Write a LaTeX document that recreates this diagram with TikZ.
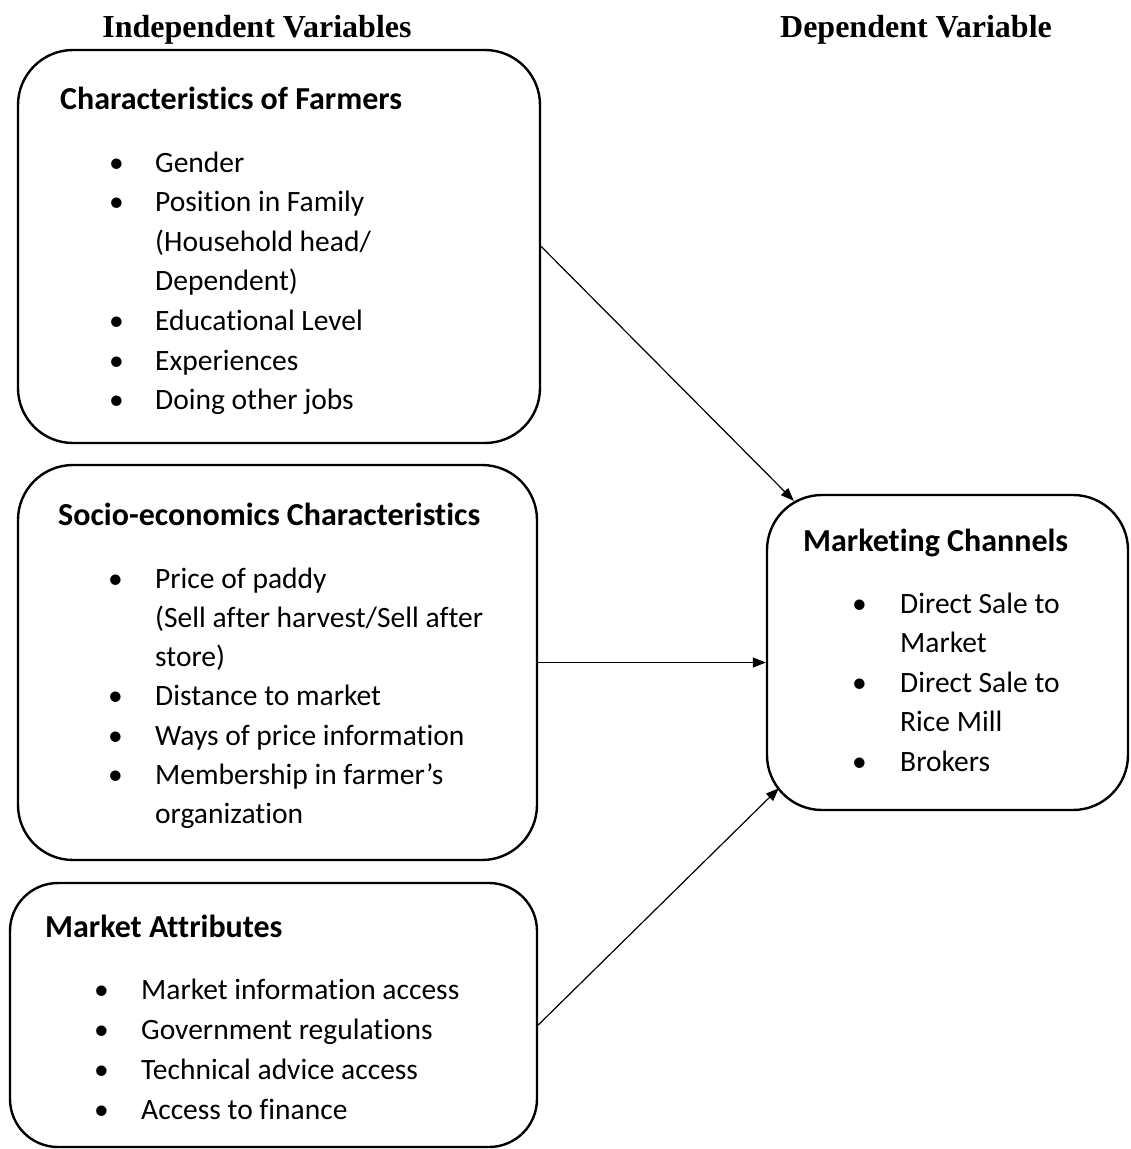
\documentclass[tikz,border=0pt]{standalone}
\usepackage{fontspec}
\setmainfont{Carlito}[Ligatures=CommonOff]
\newfontfamily\hdfont{Liberation Serif}
\usetikzlibrary{positioning, arrows.meta}

\begin{document}
\begin{tikzpicture}[
      x=1pt, y=-1pt,
      box/.style={draw, line width=2.4pt, rounded corners=55pt, inner sep=0pt},
      ttl/.style={font=\fontsize{32}{38}\selectfont\bfseries, anchor=base west, inner sep=0pt},
      items/.style={font=\fontsize{29.5}{39.6}\selectfont, anchor=base west, inner sep=0pt},
      hdr/.style={font=\hdfont\fontsize{32}{38}\selectfont\bfseries, anchor=base, inner sep=0pt},
      flow/.style={-{Triangle[length=13pt, width=10pt]}, line width=1.2pt}
    ]
    \useasboundingbox (0,0) rectangle (1131,1149);

    % Spaltenköpfe
    \node[hdr] (indep) at (257,37) {Independent Variables};
    \node[hdr] (dep) at (916,37) {Dependent Variable};

    % Kästen
    \node[box, minimum width=522pt, minimum height=393pt] (farm) at (279,246.5) {};
    \node[box, minimum width=519pt, minimum height=395pt] (socio) at (277.5,662.5) {};
    \node[box, minimum width=527pt, minimum height=264pt, rounded corners=48pt] (mkt) at (273.5,1015) {};
    \node[box, minimum width=361pt, minimum height=315pt] (chan) at (947.5,652.5) {};

    % Farmers
    \node[ttl] (farmT) at (60,109) {Characteristics of Farmers};
    \node[items] (farmL) at (109,172) {\begin{tabular}[t]{@{}p{46pt}@{}l@{}}
      • & Gender\\
      • & Position in Family\\
        & (Household head/\\
        & Dependent)\\
      • & Educational Level\\
      • & Experiences\\
      • & Doing other jobs
    \end{tabular}};

    % Socio-economics
    \node[ttl] (socioT) at (58,525) {Socio-economics Characteristics};
    \node[items, font=\fontsize{29.5}{39.3}\selectfont] (socioL) at (108,588) {\begin{tabular}[t]{@{}p{47pt}@{}l@{}}
      • & Price of paddy\\
        & (Sell after harvest/Sell after\\
        & store)\\
      • & Distance to market\\
      • & Ways of price information\\
      • & Membership in farmer’s\\
        & organization
    \end{tabular}};

    % Market
    \node[ttl] (mktT) at (45,937) {Market Attributes};
    \node[items, font=\fontsize{29.5}{40.3}\selectfont] (mktL) at (94,999) {\begin{tabular}[t]{@{}p{47pt}@{}l@{}}
      • & Market information access\\
      • & Government regulations\\
      • & Technical advice access\\
      • & Access to finance
    \end{tabular}};

    % Channels
    \node[ttl] (chanT) at (803,551) {Marketing Channels};
    \node[items, font=\fontsize{29.5}{39.5}\selectfont] (chanL) at (852,613) {\begin{tabular}[t]{@{}p{48pt}@{}l@{}}
      • & Direct Sale to\\
        & Market\\
      • & Direct Sale to\\
        & Rice Mill\\
      • & Brokers
    \end{tabular}};

    % Pfeile
    \draw[flow] (farm.east) -- ([shift={(28,7)}]chan.north west);
    \draw[flow] (socio.east) -- (socio.east -| chan.west);
    \draw[flow] ([yshift=-10pt]mkt.east) -- ([shift={(13,-23)}]chan.south west);
  \end{tikzpicture}
\end{document}
